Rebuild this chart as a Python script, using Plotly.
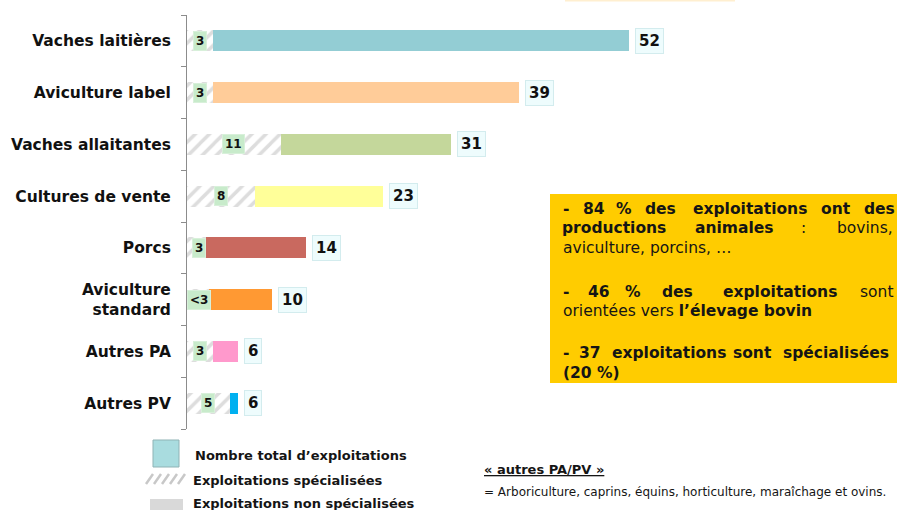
import plotly.graph_objects as go

categories = ["Vaches laitières", "Aviculture label", "Vaches allaitantes", "Cultures de vente",
              "Porcs", "Aviculture<br>standard", "Autres PA", "Autres PV"]
totals = [52, 39, 31, 23, 14, 10, 6, 6]
specialised = [3, 3, 11, 8, 2.2, 2.6, 3, 5]
spec_labels = ["3", "3", "11", "8", "3", "<3", "3", "5"]
total_labels = ["52", "39", "31", "23", "14", "10", "6", "6"]
colors = ["#93CDD4", "#FFCC99", "#C4D79B", "#FFFF99", "#C9695F", "#FF9933", "#FF99CC", "#00B0F0"]

W, H = 897, 510
L, R_EDGE, T, B_EDGE = 187, 697, 15, 429   # screen pixels of the plot area
XMAX = 60

def px(x):
    return (x - L) / (R_EDGE - L)

def py(y):
    return (B_EDGE - y) / (B_EDGE - T)

FONT = "DejaVu Sans"
rest = [t - s for t, s in zip(totals, specialised)]

fig = go.Figure()
fig.add_trace(go.Bar(
    y=categories, x=specialised, orientation="h", width=0.41,
    marker=dict(color="white", line=dict(width=0),
                pattern=dict(shape="/", fgcolor="#BBBBBB", bgcolor="white", size=10, solidity=0.35)),
    hoverinfo="skip", showlegend=False))
fig.add_trace(go.Bar(
    y=categories, x=rest, orientation="h", width=0.41,
    marker=dict(color=colors, line=dict(width=0)),
    hoverinfo="skip", showlegend=False))

ann = []
for c, t, tl in zip(categories, totals, total_labels):
    ann.append(dict(x=t, y=c, xref="x", yref="y", text=f"<b>{tl}</b>", showarrow=False,
                    xanchor="left", xshift=6, font=dict(family=FONT, size=15, color="#111"),
                    bgcolor="#EEFCFD", bordercolor="#D3ECEE", borderwidth=1, borderpad=3))
for c, s, sl in zip(categories, specialised, spec_labels):
    ann.append(dict(x=max(s / 2, 1.4), y=c, xref="x", yref="y", text=f"<b>{sl}</b>", showarrow=False,
                    xanchor="center", font=dict(family=FONT, size=12, color="#111"),
                    bgcolor="#C8EBCB", bordercolor="#D8F0DA", borderwidth=1, borderpad=2))

shapes = []
# yellow info box
shapes.append(dict(type="rect", xref="paper", yref="paper", x0=px(550), x1=px(905), y0=py(383), y1=py(194),
                   fillcolor="#FFCC00", line=dict(width=0), layer="below"))
# faint top line
shapes.append(dict(type="line", xref="paper", yref="paper", x0=px(565), x1=px(735), y0=py(0.5), y1=py(0.5),
                   line=dict(color="#FFEFD0", width=2)))

def txt(x, y, text, size=16, anchor="left", color="#151515"):
    ann.append(dict(x=px(x), y=py(y), xref="paper", yref="paper", text=text, showarrow=False,
                    xanchor=anchor, yanchor="middle", font=dict(family=FONT, size=size, color=color)))

def words(y, items, size=15.5):
    for x0, x1, w in items:
        txt((x0 + x1) / 2, y, w, size, anchor="center")

# info box text (justified lines placed word by word)
words(209, [(561, 570, "<b>-</b>"), (580, 607, "<b>84</b>"), (615, 633, "<b>%</b>"), (647, 673, "<b>des</b>"),
            (692, 807, "<b>exploitations</b>"), (820, 852, "<b>ont</b>"), (865, 893, "<b>des</b>")])
words(228, [(561, 666, "<b>productions</b>"), (695, 773, "<b>animales</b>"), (801, 805, ":"),
            (837, 893, "bovins,")])
txt(561, 248, "aviculture, porcins, …", 15.5)
words(292, [(561, 570, "<b>-</b>"), (588, 610, "<b>46</b>"), (622, 643, "<b>%</b>"), (653, 702, "<b>des</b>"),
            (722, 838, "<b>exploitations</b>"), (860, 893, "sont")])
txt(561, 311, "orientées vers <b>l’élevage bovin</b>", 15.5)
words(353, [(561, 570, "<b>-</b>"), (577, 602, "<b>37</b>"), (612, 725, "<b>exploitations</b>"),
            (737, 767, "<b>sont</b>"), (778, 893, "<b>spécialisées</b>")])
txt(561, 373, "<b>(20 %)</b>", 15.5)

# legend
shapes.append(dict(type="rect", xref="paper", yref="paper", x0=px(153), x1=px(179), y0=py(467), y1=py(440),
                   fillcolor="#A9DCDF", line=dict(color="#8FB3B5", width=1)))
for i in range(5):
    x0 = 146 + i * 8
    shapes.append(dict(type="line", xref="paper", yref="paper", x0=px(x0), x1=px(x0 + 7),
                       y0=py(484), y1=py(474), line=dict(color="#C8C8C8", width=2.5)))
shapes.append(dict(type="rect", xref="paper", yref="paper", x0=px(150), x1=px(183), y0=py(512), y1=py(499),
                   fillcolor="#D9D9D9", line=dict(width=0)))
txt(193, 455, "<b>Nombre total d’exploitations</b>", 13)
txt(191, 480, "<b>Exploitations spécialisées</b>", 13)
txt(191, 504, "<b>Exploitations non spécialisées</b>", 13)

# footnote
txt(482, 469, "<b><u>« autres PA/PV »</u></b>", 13)
txt(482, 492, "= Arboriculture, caprins, équins, horticulture, maraîchage et ovins.", 12)

fig.update_layout(
    width=W, height=H, barmode="stack", bargap=0.6,
    margin=dict(l=L, r=W - R_EDGE, t=T, b=H - B_EDGE),
    plot_bgcolor="white", paper_bgcolor="white",
    xaxis=dict(range=[0, XMAX], visible=False, fixedrange=True),
    yaxis=dict(autorange="reversed", showline=True, linecolor="#8C8C8C", linewidth=1,
               ticks="outside", tickson="boundaries", ticklen=5, tickcolor="#8C8C8C",
               tickfont=dict(family=FONT, size=15.5, color="#111"), ticklabelstandoff=12,
               showgrid=False, zeroline=False, fixedrange=True),
    annotations=ann, shapes=shapes, font=dict(family=FONT),
)
fig.update_yaxes(ticktext=[f"<b>{c}</b>" for c in categories], tickvals=categories)
fig.write_html("out.html", config={"displayModeBar": False},
               post_script="document.body.style.margin='0';document.body.style.overflow='hidden';")
